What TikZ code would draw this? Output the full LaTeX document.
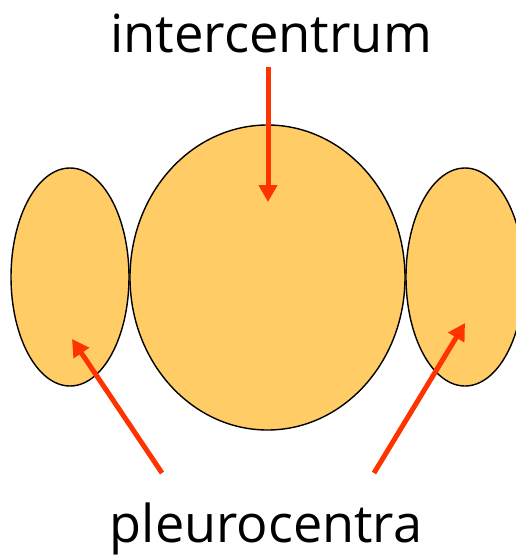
\documentclass[tikz,border=0pt]{standalone}
\usepackage{fontspec}
\setmainfont{Open Sans}
\usetikzlibrary{shapes.geometric,arrows.meta}
\definecolor{bonefill}{HTML}{FFCC66}
\definecolor{arrowred}{HTML}{FF3300}
\tikzset{
  bone/.style={ellipse, draw=black, line width=1.4pt, fill=bonefill, inner sep=0pt},
  pointer/.style={draw=arrowred, line width=5pt, -{Triangle[length=17pt,width=18pt]}},
  label/.style={inner sep=0pt, anchor=base}
}
\begin{document}
\begin{tikzpicture}[x=1pt,y=-1pt]
\useasboundingbox (0,0) rectangle (516,555);
\node[bone, minimum width=118pt, minimum height=218pt] (left) at (70,277) {};
\node[bone, minimum width=118pt, minimum height=218pt] (right) at (465,277) {};
\node[bone, minimum width=275pt, minimum height=305pt] (centre) at (267.5,277.5) {};
\node[label] (top) at (271,52) {\resizebox{322pt}{!}{intercentrum}};
\node[label] (bottom) at (266,542) {\resizebox{312pt}{!}{pleurocentra}};
\coordinate (ttail) at (268,67);
\coordinate (ttip) at (268,202);
\coordinate (ltail) at (162,473);
\coordinate (ltip) at (72,339);
\coordinate (rtail) at (374,473);
\coordinate (rtip) at (465,323);
\draw[pointer] (ttail) -- (ttip);
\draw[pointer] (ltail) -- (ltip);
\draw[pointer] (rtail) -- (rtip);
\end{tikzpicture}
\end{document}
